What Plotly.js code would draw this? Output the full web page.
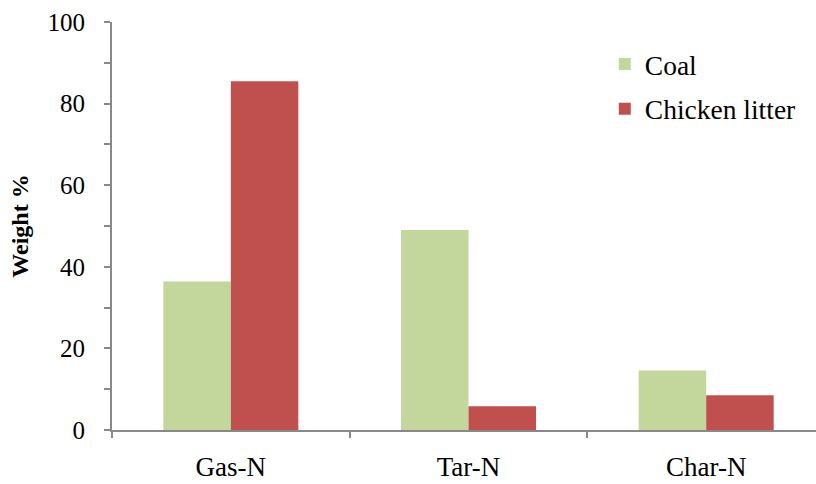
<!DOCTYPE html>
<html>
<head>
<meta charset="utf-8">
<script src="https://cdn.plot.ly/plotly-3.0.1.min.js"></script>
<style>html,body{margin:0;padding:0;background:#fff;}#chart{width:816px;height:484px;}</style>
</head>
<body>
<div id="chart"></div>
<script>
const categories = ["Gas-N", "Tar-N", "Char-N"];
const coalValues = [36.4, 49.0, 14.6];
const chickenValues = [85.5, 5.8, 8.5];
const seriesNames = ["Coal", "Chicken litter"];
const yTickValues = [0, 20, 40, 60, 80, 100];

const font = "Liberation Serif";
const axisGray = "#898989";

const data = [
  {type: "bar", name: seriesNames[0], x: categories, y: coalValues,
   marker: {color: "#C3D69B"}, legendgroup: "a"},
  {type: "bar", name: seriesNames[1], x: categories, y: chickenValues,
   marker: {color: "#C0504D"}, legendgroup: "b"}
];

const layout = {
  width: 816, height: 484,
  margin: {l: 112, r: 0, t: 22, b: 54, pad: 0},
  paper_bgcolor: "#fff", plot_bgcolor: "#fff",
  font: {family: font, size: 26, color: "#000"},
  barmode: "group", bargap: 0.432, bargroupgap: 0,
  showlegend: true,
  legend: {x: 0.70, y: 0.957, xanchor: "left", yanchor: "top",
           font: {family: font, size: 27.5, color: "#000"},
           tracegroupgap: 6, traceorder: "grouped", bgcolor: "rgba(0,0,0,0)"},
  xaxis: {type: "category", range: [-0.5, 2.462], showline: true, linecolor: axisGray, linewidth: 2,
          ticks: "outside", tickson: "boundaries", ticklen: 6, tickcolor: axisGray, tickwidth: 2,
          showgrid: false, zeroline: false, ticklabelstandoff: 12,
          tickfont: {family: font, size: 27, color: "#000"}, fixedrange: true},
  yaxis: {range: [0, 100], tickvals: yTickValues, showline: true, linecolor: axisGray, linewidth: 2,
          ticks: "outside", ticklen: 6, tickcolor: axisGray, tickwidth: 2,
          minor: {dtick: 10, ticks: "outside", ticklen: 6, tickcolor: axisGray, tickwidth: 2, showgrid: false},
          showgrid: false, zeroline: false, ticklabelstandoff: 14,
          tickfont: {family: font, size: 25, color: "#000"},
          title: {text: "<b>Weight %</b>", font: {family: font, size: 24, color: "#000"}, standoff: 12},
          fixedrange: true}
};

Plotly.newPlot("chart", data, layout, {displayModeBar: false, staticPlot: true});
</script>
</body>
</html>
